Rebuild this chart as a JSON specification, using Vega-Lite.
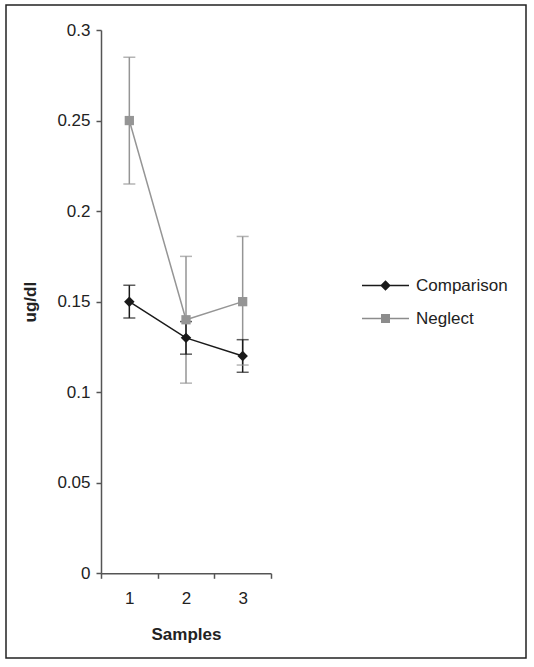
{
  "$schema": "https://vega.github.io/schema/vega-lite/v6.json",
  "width": 520,
  "height": 653,
  "autosize": {"type": "none"},
  "padding": {"left": 6, "top": 5, "right": 8, "bottom": 9},
  "background": "white",
  "config": {
    "font": "Liberation Sans",
    "view": {"stroke": "#222", "strokeWidth": 1.5},
    "axis": {
      "labelFont": "Liberation Sans",
      "labelFontSize": 17,
      "labelColor": "#222",
      "titleFont": "Liberation Sans",
      "titleFontSize": 17,
      "titleFontWeight": "bold",
      "titleColor": "#222",
      "domainColor": "#555",
      "domainWidth": 1.5,
      "tickColor": "#555",
      "tickWidth": 1.5,
      "tickSize": 5,
      "grid": false
    }
  },
  "data": {
    "values": [
      {"sample": "1", "series": "Neglect", "value": 0.25, "lo": 0.215, "hi": 0.285},
      {"sample": "2", "series": "Neglect", "value": 0.14, "lo": 0.105, "hi": 0.175},
      {"sample": "3", "series": "Neglect", "value": 0.15, "lo": 0.115, "hi": 0.186},
      {"sample": "1", "series": "Comparison", "value": 0.15, "lo": 0.141, "hi": 0.159},
      {"sample": "2", "series": "Comparison", "value": 0.13, "lo": 0.121, "hi": 0.139},
      {"sample": "3", "series": "Comparison", "value": 0.12, "lo": 0.111, "hi": 0.129}
    ]
  },
  "encoding": {
    "x": {
      "field": "sample",
      "type": "ordinal",
      "sort": ["1", "2", "3"],
      "scale": {"type": "band", "domain": ["1", "2", "3"], "range": [95, 265], "paddingInner": 0, "paddingOuter": 0},
      "axis": {"orient": "bottom", "offset": -84.7, "tickBand": "extent", "labelAngle": 0, "labelPadding": 12, "title": "Samples", "titlePadding": 20}
    }
  },
  "layer": [
    {
      "mark": {"type": "rule", "strokeWidth": 1.5},
      "encoding": {
        "y": {
          "field": "lo",
          "type": "quantitative",
          "scale": {"domain": [0, 0.3], "range": [568.3, 25], "nice": false, "zero": false},
          "axis": {"orient": "left", "offset": -95, "values": [0, 0.05, 0.1, 0.15, 0.2, 0.25, 0.3], "format": "~g", "labelPadding": 6, "title": "ug/dl", "titlePadding": 17}
        },
        "y2": {"field": "hi"},
        "color": {"field": "series", "type": "nominal", "scale": {"domain": ["Comparison", "Neglect"], "range": ["#1a1a1a", "#959595"]}, "legend": null}
      }
    },
    {
      "mark": {"type": "tick", "size": 12, "thickness": 1.5},
      "encoding": {
        "y": {"field": "lo", "type": "quantitative"},
        "color": {"field": "series", "type": "nominal", "legend": null}
      }
    },
    {
      "mark": {"type": "tick", "size": 12, "thickness": 1.5},
      "encoding": {
        "y": {"field": "hi", "type": "quantitative"},
        "color": {"field": "series", "type": "nominal", "legend": null}
      }
    },
    {
      "mark": {"type": "line", "strokeWidth": 1.5},
      "encoding": {
        "y": {"field": "value", "type": "quantitative"},
        "color": {"field": "series", "type": "nominal", "legend": null}
      }
    },
    {
      "mark": {"type": "point", "filled": true, "opacity": 1},
      "encoding": {
        "y": {"field": "value", "type": "quantitative"},
        "color": {"field": "series", "type": "nominal", "legend": null},
        "shape": {"field": "series", "type": "nominal", "scale": {"domain": ["Comparison", "Neglect"], "range": ["diamond", "square"]}, "legend": null},
        "size": {"field": "series", "type": "nominal", "scale": {"domain": ["Comparison", "Neglect"], "range": [110, 86]}, "legend": null}
      }
    },
    {
      "mark": {
        "type": "point",
        "filled": false,
        "opacity": 0,
        "size": 2209,
        "strokeWidth": 1.5,
        "color": {"expr": "(datum.series || datum.value) === 'Comparison' ? '#1a1a1a' : '#8c8c8c'"}
      },
      "encoding": {
        "y": {"field": "value", "type": "quantitative"},
        "shape": {
          "field": "series",
          "type": "nominal",
          "title": null,
          "scale": {"domain": ["Comparison", "Neglect"], "range": [
            "M-1,0H1M0,-0.18L0.18,0L0,0.18L-0.18,0ZM0,-0.12L0.12,0L0,0.12L-0.12,0ZM0,-0.06L0.06,0L0,0.06L-0.06,0Z",
            "M-1,0H1M-0.16,-0.16H0.16V0.16H-0.16ZM-0.1,-0.1H0.1V0.1H-0.1ZM-0.04,-0.04H0.04V0.04H-0.04Z"
          ]},
          "legend": {
            "orient": "none",
            "legendX": 355,
            "legendY": 256,
            "padding": 0,
            "symbolSize": 2209,
            "symbolStrokeWidth": 1.5,
            "symbolOpacity": 1,
            "labelFont": "Liberation Sans",
            "labelFontSize": 17,
            "labelColor": "#222",
            "labelOffset": 6,
            "rowPadding": -17
          }
        }
      }
    }
  ],
  "resolve": {"scale": {"shape": "independent", "size": "independent"}}
}
